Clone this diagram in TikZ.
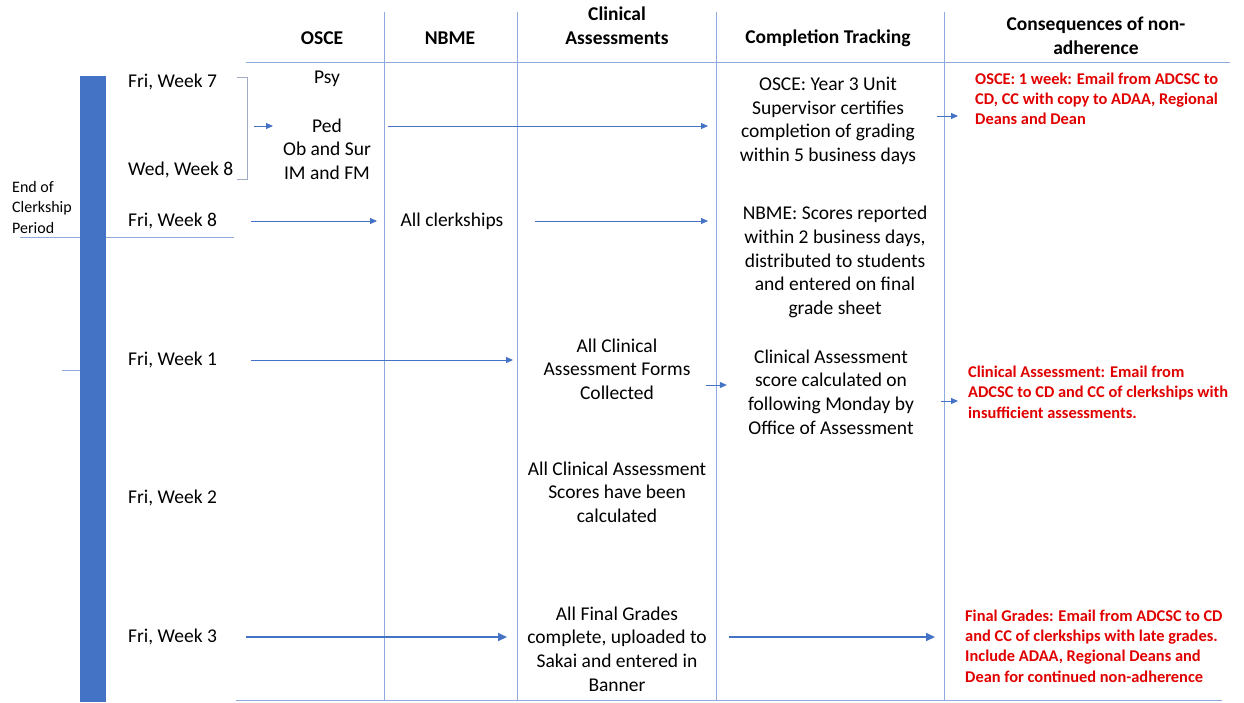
\documentclass[tikz,border=0pt]{standalone}
\usepackage{fontspec}
\setmainfont{Carlito}
\usepackage{tikz}
\usetikzlibrary{arrows.meta,positioning}
\usepackage{xcolor}
\definecolor{barblue}{RGB}{68,114,196}
\definecolor{gridblue}{RGB}{143,170,220}
\definecolor{brkgray}{RGB}{160,172,196}
\definecolor{alertred}{RGB}{225,0,0}
\tikzstyle{arrow} = [line width=0.9pt,->,>={Triangle[length=7pt,width=6pt]},color=barblue]
\tikzstyle{bigarrow} = [arrow, line width=1.8pt, >={Triangle[length=9pt,width=8pt]}]
\tikzstyle{grid} = [line width=0.8pt, color=gridblue]
\tikzstyle{head} = [align=center, inner sep=0pt, font=\bfseries\fontsize{19.5}{24}\selectfont]
\tikzstyle{day} = [anchor=west, inner sep=0pt, font=\fontsize{19.5}{23.7}\selectfont]
\tikzstyle{cell} = [align=center, inner sep=0pt, font=\fontsize{19.5}{23.7}\selectfont]
\tikzstyle{alert} = [anchor=west, align=left, inner sep=0pt, text=alertred, font=\bfseries\fontsize{16.4}{20.3}\selectfont]

\begin{document}
\begin{tikzpicture}[x=1pt, y=-1pt]
\useasboundingbox (0,0) rectangle (1244,702);
% column lines
\coordinate (c0) at (247,12);
\coordinate (c1) at (384,12);
\coordinate (c2) at (517,12);
\coordinate (c3) at (716,12);
\coordinate (c4) at (944,12);
\foreach \c in {c1,c2,c3,c4}
  \draw[grid] (\c) -- ++(0,688);
\draw[grid] (246,62) -- (1230,62);
\draw[grid] (236,700) -- (1222,700);

% headers
\node[head] (hosce) at (322,38) {OSCE};
\node[head] (hnbme) at (450,38) {NBME};
\node[head] (hclin) at (617,26) {Clinical\\Assessments};
\node[head] (hcomp) at (828,38) {Completion Tracking};
\node[head] (hcons) at (1096,36) {Consequences of non-\\adherence};

% time bar
\draw[grid] (20,237) -- (234,237);
\draw[grid] (62,370) -- (80,370);
\fill[barblue] (80,76) rectangle (106,702);
\node[anchor=west, align=left, inner sep=0pt, font=\fontsize{16}{20.5}\selectfont] (endp) at (12,207) {End of\\Clerkship\\Period};

% days
\node[day] (wk7) at (128,82) {Fri, Week 7};
\node[day] (wed8) at (128,170) {Wed, Week 8};
\node[day] (fri8) at (128,221) {Fri, Week 8};
\node[day] (wk1) at (128,360) {Fri, Week 1};
\node[day] (wk2) at (128,498) {Fri, Week 2};
\node[day] (wk3) at (128,637) {Fri, Week 3};
\draw[brkgray, line width=0.8pt] (237,77) -- (247,77) -- (247,179) -- (237,179);
\coordinate (brk) at (247,126);

% OSCE
\node[cell] (psy) at (327,79) {Psy};
\node[cell] (osce) at (327,149) {Ped\\Ob and Sur\\IM and FM};
% NBME
\node[cell] (clerk) at (452,221) {All clerkships};
% Clinical Assessments
\node[cell] (clin1) at (617,369) {All Clinical\\Assessment Forms\\Collected};
\node[cell] (clin2) at (617,492) {All Clinical Assessment\\Scores have been\\calculated};
\node[cell] (clin3) at (617,649) {All Final Grades\\complete, uploaded to\\Sakai and entered in\\Banner};
% Completion Tracking
\node[cell] (comp1) at (828,121) {OSCE: Year 3 Unit\\Supervisor certifies\\completion of grading\\within 5 business days};
\node[cell] (comp2) at (835,262) {NBME: Scores reported\\within 2 business days,\\distributed to students\\and entered on final\\grade sheet};
\node[cell] (comp3) at (831,392) {Clinical Assessment\\score calculated on\\following Monday by\\Office of Assessment};
% Consequences
\node[alert] (cons1) at (975,99) {OSCE: 1 week: Email from ADCSC to\\CD, CC with copy to ADAA, Regional\\Deans and Dean};
\node[alert] (cons2) at (968,392) {Clinical Assessment: Email from\\ADCSC to CD and CC of clerkships with\\insufficient assessments.};
\node[alert] (cons3) at (965,646) {Final Grades: Email from ADCSC to CD\\and CC of clerkships with late grades.\\Include ADAA, Regional Deans and\\Dean for continued non-adherence};

% flows
\draw[arrow, shorten <=7pt] (brk) -- ([xshift=26pt]brk);
\draw[arrow, shorten <=4pt, shorten >=8pt] (brk -| c1) -- (brk -| c3);
\draw[arrow, shorten <=4pt, shorten >=7pt] (fri8 -| c0) -- (fri8 -| c1);
\draw[arrow, shorten <=18pt, shorten >=8pt] (fri8 -| c2) -- (fri8 -| c3);
\draw[arrow, shorten <=4pt, shorten >=4pt] (wk1 -| c0) -- (wk1 -| c2);
\draw[arrow, shorten <=15pt, shorten >=21pt] (clin1.east |- 0,385) -- (comp3.west |- 0,385);
\draw[arrow, shorten <=21pt, shorten >=17pt] (comp1.east |- 0,116) -- (cons1.west |- 0,116);
\draw[arrow, shorten <=27pt, shorten >=10pt] (comp3.east |- 0,401) -- (cons2.west |- 0,401);
\draw[bigarrow, shorten <=-1pt, shorten >=10pt] (wk3 -| c0) -- (wk3 -| c2);
\draw[bigarrow, shorten <=13pt, shorten >=9pt] (wk3 -| c3) -- (wk3 -| c4);
\end{tikzpicture}
\end{document}
